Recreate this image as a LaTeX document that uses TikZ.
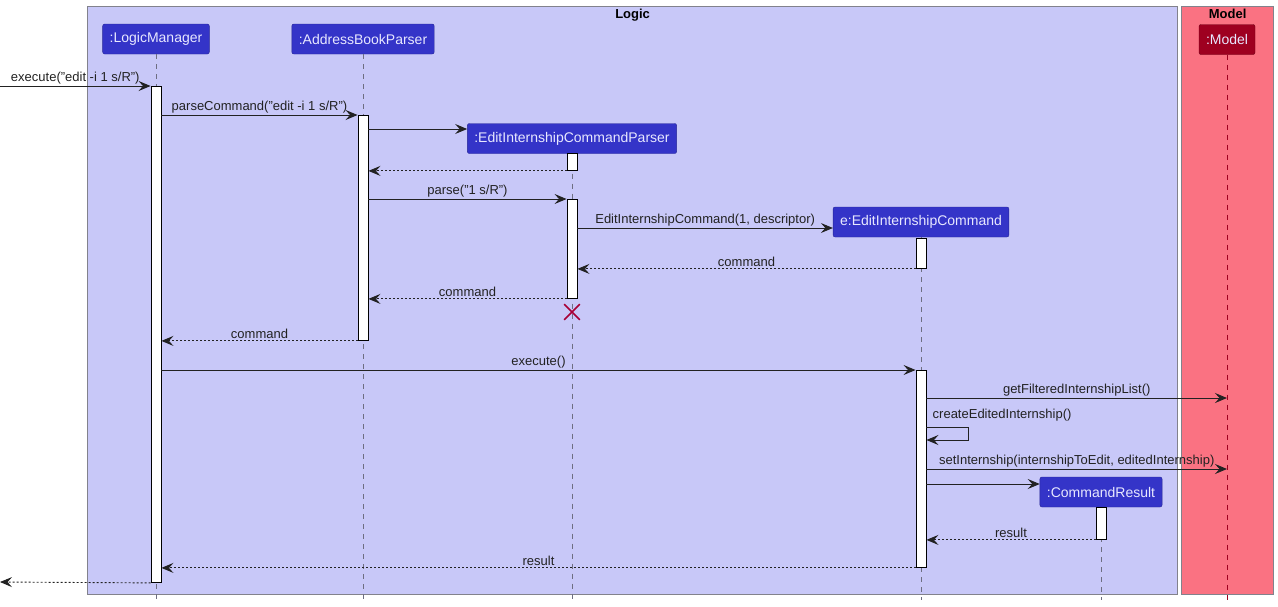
\documentclass[tikz,border=0pt]{standalone}
\usepackage{fontspec}
\setmainfont{Liberation Sans}
\usetikzlibrary{arrows.meta, positioning, shapes.misc}

\definecolor{logicfill}{RGB}{200,200,248}
\definecolor{modelfill}{RGB}{250,114,130}
\definecolor{framegray}{RGB}{130,130,140}
\definecolor{partfill}{RGB}{52,52,200}
\definecolor{partline}{RGB}{40,40,150}
\definecolor{parttext}{RGB}{232,232,255}
\definecolor{modelpart}{RGB}{158,0,32}
\definecolor{msgcol}{RGB}{34,34,34}
\definecolor{lifegray}{RGB}{110,110,130}
\definecolor{crossred}{RGB}{168,0,54}

\begin{document}
\begin{tikzpicture}[x=1pt, y=-1pt,
    every node/.style={font=\fontsize{13}{15}\selectfont},
    frame/.style={draw=framegray, line width=1.2pt, anchor=north west, inner sep=0pt},
    part/.style={draw=partline, fill=partfill, rounded corners=2pt, text=parttext, minimum height=30pt, inner xsep=7pt, font=\fontsize{14}{16}\selectfont},
    act/.style={draw=black, fill=white, minimum width=10pt, inner sep=0pt, anchor=north, line width=0.9pt},
    life/.style={draw=lifegray, dash pattern=on 5pt off 5pt, line width=0.8pt},
    msg/.style={-{Stealth[length=12pt, width=10pt, inset=4.5pt]}, line width=0.9pt, draw=msgcol},
    ret/.style={msg, dash pattern=on 2pt off 2pt},
    lbl/.style={text=msgcol, inner sep=1.5pt, above}]
    \useasboundingbox (0,0) rectangle (1278,606);

    % Boxes
    \node[frame, fill=logicfill, minimum width=1090pt, minimum height=588pt] (logic) at (87,6) {};
    \node[frame, fill=modelfill, minimum width=92pt, minimum height=588pt] (model) at (1181,6) {};
    \node[font=\bfseries\fontsize{13}{15}\selectfont, below=0pt of logic.north] (logicT) {Logic};
    \node[font=\bfseries\fontsize{13}{15}\selectfont, below=0pt of model.north] (modelT) {Model};

    % Participants
    \node[part] (lm) at (156,39) {:LogicManager};
    \node[part] (abp) at (363,39) {:AddressBookParser};
    \node[part] (ep) at (572,138.5) {:EditInternshipCommandParser};
    \node[part] (ec) at (921,222) {e:EditInternshipCommand};
    \node[part] (cr) at (1101,492) {:CommandResult};
    \node[part, fill=modelpart, draw=modelpart!70!black] (md) at (1227,39.5) {:Model};

    % Lifelines
    \draw[life] (lm) -- (lm |- 0,600);
    \draw[life] (abp) -- (abp |- 0,600);
    \draw[life] (ep) -- (ep |- 0,600);
    \draw[life] (ec) -- (ec |- 0,600);
    \draw[life] (cr) -- (cr |- 0,600);
    \draw[life, draw=modelpart] (md) -- (md |- 0,600);

    % Activations
    \node[act, minimum height=496pt] (lmA) at (156,86) {};
    \node[act, minimum height=225pt] (abpA) at (363,115) {};
    \node[act, minimum height=17pt] (epA1) at (572,153) {};
    \node[act, minimum height=99pt] (epA2) at (572,199) {};
    \node[act, minimum height=30pt] (ecA1) at (921,238) {};
    \node[act, minimum height=197pt] (ecA2) at (921,370) {};
    \node[act, minimum height=32pt] (crA) at (1101,507) {};

    \coordinate (in) at (0,86);
    \coordinate (out) at (0,582);

    % Messages
    \draw[msg] (in) -- (lmA.north west) node[lbl, midway] {execute("edit -i 1 s/R")};
    \draw[msg] (lmA.east |- 0,115) -- (abpA.north west) node[lbl, midway] {parseCommand("edit -i 1 s/R")};
    \draw[msg] (abpA.east |- 0,129) -- (ep.west |- 0,129);
    \draw[ret] (epA1.south west) -- (abpA.east |- epA1.south);
    \draw[msg] (abpA.east |- epA2.north) -- (epA2.north west) node[lbl, midway] {parse("1 s/R")};
    \draw[msg] (epA2.east |- 0,228) -- (ec.west |- 0,228) node[lbl, midway] {EditInternshipCommand(1, descriptor)};
    \draw[ret] (ecA1.south west) -- (epA2.east |- ecA1.south) node[lbl, midway] {command};
    \draw[ret] (epA2.south west) -- (abpA.east |- epA2.south) node[lbl, midway] {command};
    \node[cross out, draw=crossred, line width=1.6pt, minimum size=14pt, inner sep=0pt] (gone) at (572,312) {};
    \draw[ret] (abpA.south west) -- (lmA.east |- abpA.south) node[lbl, midway] {command};
    \draw[msg] (lmA.east |- ecA2.north) -- (ecA2.north west) node[lbl, midway] {execute()};
    \draw[msg] (ecA2.east |- 0,398) -- (md |- 0,398) node[lbl, midway] {getFilteredInternshipList()};
    \draw[msg] (ecA2.east |- 0,427) -- ++(42,0) -- ++(0,13) -- (ecA2.east |- 0,440);
    \node[lbl, anchor=south west] (selfL) at (931,423) {createEditedInternship()};
    \draw[msg] (ecA2.east |- 0,469) -- (md |- 0,469) node[lbl, midway] {setInternship(internshipToEdit, editedInternship)};
    \draw[msg] (ecA2.east |- 0,484) -- (cr.west |- 0,484);
    \draw[ret] (crA.south west) -- (ecA2.east |- crA.south) node[lbl, midway] {result};
    \draw[ret] (ecA2.south west) -- (lmA.east |- ecA2.south) node[lbl, midway] {result};
    \draw[ret] (lmA.south west) -- (out);
\end{tikzpicture}
\end{document}
